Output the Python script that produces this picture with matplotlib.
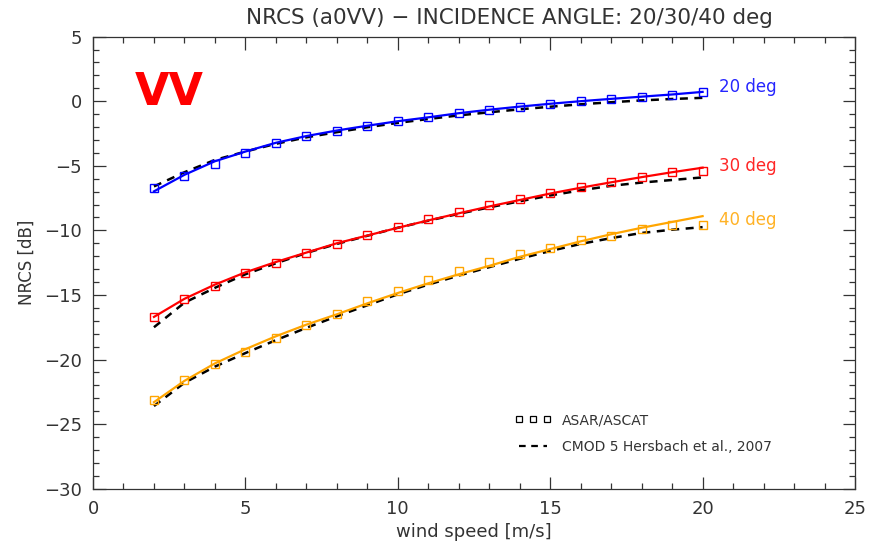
import matplotlib
matplotlib.use("Agg")
import matplotlib.pyplot as plt
from matplotlib.ticker import MultipleLocator
from matplotlib.lines import Line2D

wind = list(range(2, 21))

asar_20 = [-6.75, -5.8, -4.85, -4.0, -3.25, -2.72, -2.28, -1.9, -1.55, -1.25,
           -0.92, -0.66, -0.42, -0.18, 0.0, 0.2, 0.36, 0.5, 0.7]
fit_20 = [-6.98, -5.7, -4.65, -3.9, -3.22, -2.7, -2.27, -1.9, -1.55, -1.25,
          -0.93, -0.66, -0.42, -0.2, 0.0, 0.18, 0.35, 0.52, 0.72]
cmod_20 = [-6.6, -5.5, -4.55, -3.9, -3.3, -2.8, -2.4, -2.02, -1.68, -1.38,
           -1.1, -0.86, -0.63, -0.43, -0.24, -0.08, 0.06, 0.17, 0.26]

asar_30 = [-16.7, -15.35, -14.3, -13.3, -12.5, -11.72, -11.07, -10.38, -9.72, -9.15,
           -8.58, -8.04, -7.55, -7.08, -6.65, -6.26, -5.84, -5.48, -5.42]
fit_30 = [-16.7, -15.3, -14.2, -13.25, -12.45, -11.72, -11.0, -10.4, -9.8, -9.23,
          -8.68, -8.15, -7.65, -7.15, -6.7, -6.28, -5.88, -5.5, -5.15]
cmod_30 = [-17.5, -15.6, -14.45, -13.4, -12.55, -11.75, -11.05, -10.42, -9.8, -9.25,
           -8.72, -8.22, -7.75, -7.3, -6.9, -6.55, -6.3, -6.1, -5.9]

asar_40 = [-23.1, -21.6, -20.35, -19.4, -18.3, -17.35, -16.45, -15.5, -14.68, -13.85,
           -13.13, -12.48, -11.86, -11.35, -10.72, -10.41, -9.9, -9.56, -9.62]
fit_40 = [-23.3, -21.65, -20.3, -19.2, -18.2, -17.3, -16.5, -15.65, -14.85, -14.1,
          -13.4, -12.75, -12.05, -11.45, -10.85, -10.3, -9.8, -9.35, -8.9]
cmod_40 = [-23.6, -21.8, -20.55, -19.5, -18.5, -17.55, -16.65, -15.8, -14.95, -14.2,
           -13.5, -12.85, -12.2, -11.6, -11.05, -10.6, -10.2, -9.95, -9.75]

angle_labels = ["20 deg", "30 deg", "40 deg"]
colors = ["#0000ff", "#ff0000", "#ffa500"]

TXT = "#333333"
plt.rcParams['font.family'] = ['DejaVu Sans']

fig = plt.figure(figsize=(8.88, 5.56), dpi=100)
ax = fig.add_axes([93/888, 1 - 488.7/556, (855 - 93)/888, (488.7 - 36.6)/556])

series = [(asar_20, fit_20, cmod_20), (asar_30, fit_30, cmod_30), (asar_40, fit_40, cmod_40)]
for (asar, fit, cmod), c, lab in zip(series, colors, angle_labels):
    ax.plot(wind, cmod, color='black', lw=1.8, ls=(0, (3.2, 2.6)), zorder=2)
    ax.plot(wind, fit, color=c, lw=1.6, zorder=3)
    ax.plot(wind, asar, ls='none', marker='s', ms=5.5, mfc='none', mec=c, mew=1.0, zorder=4)
    ax.annotate(lab, xy=(wind[-1], asar[-1]), xytext=(12, 4), textcoords='offset points',
                color=c, fontsize=12, va='center', ha='left', alpha=0.85)

ax.set_xlim(0, 25)
ax.set_ylim(-30, 5)
ax.xaxis.set_major_locator(MultipleLocator(5))
ax.xaxis.set_minor_locator(MultipleLocator(1))
ax.yaxis.set_major_locator(MultipleLocator(5))
ax.yaxis.set_minor_locator(MultipleLocator(1))
ax.tick_params(which='both', direction='in', top=True, right=True, colors=TXT,
               labelsize=13, labelcolor=TXT, width=0.9)
ax.tick_params(which='major', length=9, pad=8)
ax.tick_params(which='minor', length=4.5)
for s in ax.spines.values():
    s.set_color(TXT)
    s.set_linewidth(0.9)

ax.set_xlabel("wind speed [m/s]", fontsize=13, color=TXT, labelpad=4)
ax.set_ylabel("NRCS [dB]", fontsize=12, color=TXT, labelpad=6)
ax.set_title("NRCS (a0VV) \u2212 INCIDENCE ANGLE: 20/30/40 deg", fontsize=15.5, color=TXT,
             pad=9, x=0.547)

ax.text(0.055, 0.925, "VV", transform=ax.transAxes, color='#ff0000', fontsize=32,
        fontweight='bold', va='top', ha='left')

handles = [Line2D([], [], ls='none', marker='s', ms=4.5, mfc='none', mec='black', mew=0.9),
           Line2D([], [], color='black', lw=1.6, ls=(0, (3, 2.5)))]
ax.legend(handles, ["ASAR/ASCAT", "CMOD 5 Hersbach et al., 2007"], loc='lower left',
          bbox_to_anchor=(0.537, 0.05), frameon=False, numpoints=3, fontsize=10,
          handlelength=2.6, labelcolor=TXT, labelspacing=0.9)

fig.savefig("out.png", dpi=100)
